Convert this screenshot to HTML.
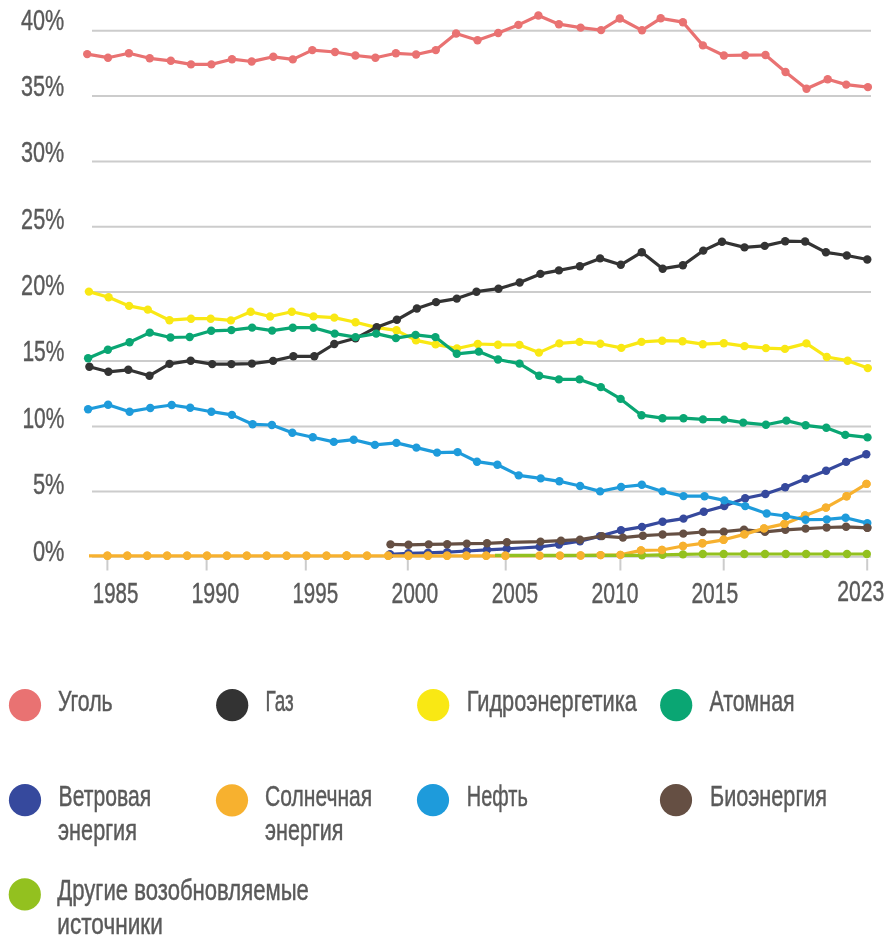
<!DOCTYPE html>
<html><head><meta charset="utf-8"><title>Chart</title>
<style>html,body{margin:0;padding:0;background:#fff;width:892px;height:943px;overflow:hidden;font-family:"Liberation Sans",sans-serif}svg{display:block;will-change:transform}</style>
</head><body>
<svg width="892" height="943" viewBox="0 0 892 943"><rect width="892" height="943" fill="#fff"/>
<line x1="92" y1="30.7" x2="871" y2="30.7" stroke="#cccccc" stroke-width="2"/>
<line x1="92" y1="96.1" x2="871" y2="96.1" stroke="#cccccc" stroke-width="2"/>
<line x1="92" y1="161.4" x2="871" y2="161.4" stroke="#cccccc" stroke-width="2"/>
<line x1="92" y1="226.7" x2="871" y2="226.7" stroke="#cccccc" stroke-width="2"/>
<line x1="92" y1="292.0" x2="871" y2="292.0" stroke="#cccccc" stroke-width="2"/>
<line x1="92" y1="361.0" x2="871" y2="361.0" stroke="#cccccc" stroke-width="2"/>
<line x1="92" y1="426.4" x2="871" y2="426.4" stroke="#cccccc" stroke-width="2"/>
<line x1="92" y1="491.6" x2="871" y2="491.6" stroke="#cccccc" stroke-width="2"/>
<line x1="92" y1="556.8" x2="871" y2="556.8" stroke="#cccccc" stroke-width="2"/>
<line x1="107.4" y1="559" x2="107.4" y2="570.5" stroke="#cccccc" stroke-width="2"/>
<line x1="206.6" y1="559" x2="206.6" y2="570.5" stroke="#cccccc" stroke-width="2"/>
<line x1="305.8" y1="559" x2="305.8" y2="570.5" stroke="#cccccc" stroke-width="2"/>
<line x1="407.8" y1="559" x2="407.8" y2="570.5" stroke="#cccccc" stroke-width="2"/>
<line x1="505.7" y1="559" x2="505.7" y2="570.5" stroke="#cccccc" stroke-width="2"/>
<line x1="620.4" y1="559" x2="620.4" y2="570.5" stroke="#cccccc" stroke-width="2"/>
<line x1="723.7" y1="559" x2="723.7" y2="570.5" stroke="#cccccc" stroke-width="2"/>
<line x1="867.2" y1="559" x2="867.2" y2="570.5" stroke="#cccccc" stroke-width="2"/>
<g font-family="Liberation Sans, sans-serif" font-size="29.5" fill="#5a5a5a" stroke="#5a5a5a" stroke-width="0.4">
<text x="21.0" y="29.7" textLength="43.2" lengthAdjust="spacingAndGlyphs">40%</text>
<text x="21.0" y="96.0" textLength="43.2" lengthAdjust="spacingAndGlyphs">35%</text>
<text x="21.0" y="162.4" textLength="43.2" lengthAdjust="spacingAndGlyphs">30%</text>
<text x="21.1" y="228.7" textLength="43.3" lengthAdjust="spacingAndGlyphs">25%</text>
<text x="21.1" y="295.1" textLength="43.3" lengthAdjust="spacingAndGlyphs">20%</text>
<text x="22.4" y="361.4" textLength="42.0" lengthAdjust="spacingAndGlyphs">15%</text>
<text x="22.4" y="427.8" textLength="42.0" lengthAdjust="spacingAndGlyphs">10%</text>
<text x="32.9" y="494.1" textLength="31.5" lengthAdjust="spacingAndGlyphs">5%</text>
<text x="32.9" y="560.5" textLength="31.5" lengthAdjust="spacingAndGlyphs">0%</text>
<text x="92.8" y="602.6" textLength="45.5" lengthAdjust="spacingAndGlyphs">1985</text>
<text x="191.4" y="602.6" textLength="47.8" lengthAdjust="spacingAndGlyphs">1990</text>
<text x="292.4" y="602.6" textLength="45.7" lengthAdjust="spacingAndGlyphs">1995</text>
<text x="391.5" y="602.6" textLength="46.7" lengthAdjust="spacingAndGlyphs">2000</text>
<text x="491.8" y="602.6" textLength="46.3" lengthAdjust="spacingAndGlyphs">2005</text>
<text x="591.5" y="602.6" textLength="47.1" lengthAdjust="spacingAndGlyphs">2010</text>
<text x="691.4" y="602.6" textLength="46.8" lengthAdjust="spacingAndGlyphs">2015</text>
<text x="837.3" y="601.3" textLength="47.1" lengthAdjust="spacingAndGlyphs">2023</text>
</g>
<g fill="#f9e814"><polyline points="88.9,291.6 108.6,297.3 129.1,305.9 147.8,309.6 169.5,320.2 191.0,318.7 210.7,318.7 230.9,320.4 250.7,311.8 270.1,316.5 291.8,311.7 313.5,316.4 334.3,317.6 355.5,322.2 377.0,327.6 396.5,330.3 416.0,340.4 435.6,344.4 457.0,348.5 477.8,344.0 498.0,344.7 519.5,344.9 538.9,352.6 559.4,343.4 579.6,341.9 600.3,343.7 621.3,347.9 641.5,341.9 662.2,340.7 682.5,341.2 702.8,344.2 723.8,343.2 744.5,346.1 765.9,348.1 784.9,348.9 806.4,343.4 826.8,357.0 847.6,360.7 867.8,368.1" fill="none" stroke="#f9e814" stroke-width="3.2" stroke-linejoin="round"/><circle cx="88.9" cy="291.6" r="4.2"/><circle cx="108.6" cy="297.3" r="4.2"/><circle cx="129.1" cy="305.9" r="4.2"/><circle cx="147.8" cy="309.6" r="4.2"/><circle cx="169.5" cy="320.2" r="4.2"/><circle cx="191.0" cy="318.7" r="4.2"/><circle cx="210.7" cy="318.7" r="4.2"/><circle cx="230.9" cy="320.4" r="4.2"/><circle cx="250.7" cy="311.8" r="4.2"/><circle cx="270.1" cy="316.5" r="4.2"/><circle cx="291.8" cy="311.7" r="4.2"/><circle cx="313.5" cy="316.4" r="4.2"/><circle cx="334.3" cy="317.6" r="4.2"/><circle cx="355.5" cy="322.2" r="4.2"/><circle cx="377.0" cy="327.6" r="4.2"/><circle cx="396.5" cy="330.3" r="4.2"/><circle cx="416.0" cy="340.4" r="4.2"/><circle cx="435.6" cy="344.4" r="4.2"/><circle cx="457.0" cy="348.5" r="4.2"/><circle cx="477.8" cy="344.0" r="4.2"/><circle cx="498.0" cy="344.7" r="4.2"/><circle cx="519.5" cy="344.9" r="4.2"/><circle cx="538.9" cy="352.6" r="4.2"/><circle cx="559.4" cy="343.4" r="4.2"/><circle cx="579.6" cy="341.9" r="4.2"/><circle cx="600.3" cy="343.7" r="4.2"/><circle cx="621.3" cy="347.9" r="4.2"/><circle cx="641.5" cy="341.9" r="4.2"/><circle cx="662.2" cy="340.7" r="4.2"/><circle cx="682.5" cy="341.2" r="4.2"/><circle cx="702.8" cy="344.2" r="4.2"/><circle cx="723.8" cy="343.2" r="4.2"/><circle cx="744.5" cy="346.1" r="4.2"/><circle cx="765.9" cy="348.1" r="4.2"/><circle cx="784.9" cy="348.9" r="4.2"/><circle cx="806.4" cy="343.4" r="4.2"/><circle cx="826.8" cy="357.0" r="4.2"/><circle cx="847.6" cy="360.7" r="4.2"/><circle cx="867.8" cy="368.1" r="4.2"/></g>
<g fill="#333333"><polyline points="89.4,366.8 108.4,371.8 128.3,369.8 149.5,375.7 169.5,363.9 190.7,360.7 212.2,364.1 231.4,364.1 251.9,363.6 273.1,360.9 293.4,356.3 314.3,356.3 334.3,344.0 355.5,338.3 376.7,327.2 396.9,319.8 416.9,308.5 436.1,302.1 456.8,298.6 476.5,291.7 498.5,288.7 519.7,282.5 540.4,273.9 558.9,270.4 579.9,266.3 600.1,258.4 620.8,264.8 641.8,252.2 662.7,268.7 682.9,265.3 703.3,250.6 722.0,241.7 744.5,247.4 764.7,245.9 785.2,241.2 805.1,241.5 825.9,252.3 846.8,255.5 867.3,259.5" fill="none" stroke="#333333" stroke-width="3.2" stroke-linejoin="round"/><circle cx="89.4" cy="366.8" r="4.2"/><circle cx="108.4" cy="371.8" r="4.2"/><circle cx="128.3" cy="369.8" r="4.2"/><circle cx="149.5" cy="375.7" r="4.2"/><circle cx="169.5" cy="363.9" r="4.2"/><circle cx="190.7" cy="360.7" r="4.2"/><circle cx="212.2" cy="364.1" r="4.2"/><circle cx="231.4" cy="364.1" r="4.2"/><circle cx="251.9" cy="363.6" r="4.2"/><circle cx="273.1" cy="360.9" r="4.2"/><circle cx="293.4" cy="356.3" r="4.2"/><circle cx="314.3" cy="356.3" r="4.2"/><circle cx="334.3" cy="344.0" r="4.2"/><circle cx="355.5" cy="338.3" r="4.2"/><circle cx="376.7" cy="327.2" r="4.2"/><circle cx="396.9" cy="319.8" r="4.2"/><circle cx="416.9" cy="308.5" r="4.2"/><circle cx="436.1" cy="302.1" r="4.2"/><circle cx="456.8" cy="298.6" r="4.2"/><circle cx="476.5" cy="291.7" r="4.2"/><circle cx="498.5" cy="288.7" r="4.2"/><circle cx="519.7" cy="282.5" r="4.2"/><circle cx="540.4" cy="273.9" r="4.2"/><circle cx="558.9" cy="270.4" r="4.2"/><circle cx="579.9" cy="266.3" r="4.2"/><circle cx="600.1" cy="258.4" r="4.2"/><circle cx="620.8" cy="264.8" r="4.2"/><circle cx="641.8" cy="252.2" r="4.2"/><circle cx="662.7" cy="268.7" r="4.2"/><circle cx="682.9" cy="265.3" r="4.2"/><circle cx="703.3" cy="250.6" r="4.2"/><circle cx="722.0" cy="241.7" r="4.2"/><circle cx="744.5" cy="247.4" r="4.2"/><circle cx="764.7" cy="245.9" r="4.2"/><circle cx="785.2" cy="241.2" r="4.2"/><circle cx="805.1" cy="241.5" r="4.2"/><circle cx="825.9" cy="252.3" r="4.2"/><circle cx="846.8" cy="255.5" r="4.2"/><circle cx="867.3" cy="259.5" r="4.2"/></g>
<g fill="#0aa673"><polyline points="88.1,358.2 107.9,349.8 129.6,342.2 149.8,332.6 170.5,337.5 189.7,337.0 211.2,330.8 231.4,330.1 252.1,327.6 272.1,330.6 292.8,327.7 313.5,327.7 334.7,333.6 355.5,337.1 376.2,333.6 395.9,338.1 415.6,334.9 435.4,337.1 456.8,353.8 478.8,351.6 498.0,359.5 519.5,363.6 539.2,375.7 558.9,379.4 579.6,379.4 600.8,387.1 620.6,398.9 641.5,415.2 662.5,418.2 683.5,418.2 703.0,419.4 724.0,419.6 743.2,422.6 765.9,424.8 786.4,420.6 805.6,425.3 826.3,427.8 845.3,434.9 867.5,437.4" fill="none" stroke="#0aa673" stroke-width="3.2" stroke-linejoin="round"/><circle cx="88.1" cy="358.2" r="4.2"/><circle cx="107.9" cy="349.8" r="4.2"/><circle cx="129.6" cy="342.2" r="4.2"/><circle cx="149.8" cy="332.6" r="4.2"/><circle cx="170.5" cy="337.5" r="4.2"/><circle cx="189.7" cy="337.0" r="4.2"/><circle cx="211.2" cy="330.8" r="4.2"/><circle cx="231.4" cy="330.1" r="4.2"/><circle cx="252.1" cy="327.6" r="4.2"/><circle cx="272.1" cy="330.6" r="4.2"/><circle cx="292.8" cy="327.7" r="4.2"/><circle cx="313.5" cy="327.7" r="4.2"/><circle cx="334.7" cy="333.6" r="4.2"/><circle cx="355.5" cy="337.1" r="4.2"/><circle cx="376.2" cy="333.6" r="4.2"/><circle cx="395.9" cy="338.1" r="4.2"/><circle cx="415.6" cy="334.9" r="4.2"/><circle cx="435.4" cy="337.1" r="4.2"/><circle cx="456.8" cy="353.8" r="4.2"/><circle cx="478.8" cy="351.6" r="4.2"/><circle cx="498.0" cy="359.5" r="4.2"/><circle cx="519.5" cy="363.6" r="4.2"/><circle cx="539.2" cy="375.7" r="4.2"/><circle cx="558.9" cy="379.4" r="4.2"/><circle cx="579.6" cy="379.4" r="4.2"/><circle cx="600.8" cy="387.1" r="4.2"/><circle cx="620.6" cy="398.9" r="4.2"/><circle cx="641.5" cy="415.2" r="4.2"/><circle cx="662.5" cy="418.2" r="4.2"/><circle cx="683.5" cy="418.2" r="4.2"/><circle cx="703.0" cy="419.4" r="4.2"/><circle cx="724.0" cy="419.6" r="4.2"/><circle cx="743.2" cy="422.6" r="4.2"/><circle cx="765.9" cy="424.8" r="4.2"/><circle cx="786.4" cy="420.6" r="4.2"/><circle cx="805.6" cy="425.3" r="4.2"/><circle cx="826.3" cy="427.8" r="4.2"/><circle cx="845.3" cy="434.9" r="4.2"/><circle cx="867.5" cy="437.4" r="4.2"/></g>
<g fill="#e97272"><polyline points="87.2,54.1 108.0,57.7 128.9,53.2 149.7,58.3 170.8,60.8 191.0,64.4 211.4,64.4 232.0,59.2 251.7,61.5 273.3,56.8 292.8,59.4 312.3,50.1 335.0,52.0 355.4,55.5 375.4,57.7 395.9,53.3 416.1,54.5 435.8,50.1 456.1,33.5 477.5,40.2 498.2,33.0 518.4,24.9 538.4,15.5 558.9,24.2 580.6,27.6 601.1,30.1 619.8,18.5 642.0,30.3 660.7,18.3 682.9,22.2 702.9,45.4 723.9,55.5 745.1,55.2 765.5,55.0 785.5,72.0 806.5,88.8 827.7,79.2 846.2,84.6 867.9,87.1" fill="none" stroke="#e97272" stroke-width="3.2" stroke-linejoin="round"/><circle cx="87.2" cy="54.1" r="4.2"/><circle cx="108.0" cy="57.7" r="4.2"/><circle cx="128.9" cy="53.2" r="4.2"/><circle cx="149.7" cy="58.3" r="4.2"/><circle cx="170.8" cy="60.8" r="4.2"/><circle cx="191.0" cy="64.4" r="4.2"/><circle cx="211.4" cy="64.4" r="4.2"/><circle cx="232.0" cy="59.2" r="4.2"/><circle cx="251.7" cy="61.5" r="4.2"/><circle cx="273.3" cy="56.8" r="4.2"/><circle cx="292.8" cy="59.4" r="4.2"/><circle cx="312.3" cy="50.1" r="4.2"/><circle cx="335.0" cy="52.0" r="4.2"/><circle cx="355.4" cy="55.5" r="4.2"/><circle cx="375.4" cy="57.7" r="4.2"/><circle cx="395.9" cy="53.3" r="4.2"/><circle cx="416.1" cy="54.5" r="4.2"/><circle cx="435.8" cy="50.1" r="4.2"/><circle cx="456.1" cy="33.5" r="4.2"/><circle cx="477.5" cy="40.2" r="4.2"/><circle cx="498.2" cy="33.0" r="4.2"/><circle cx="518.4" cy="24.9" r="4.2"/><circle cx="538.4" cy="15.5" r="4.2"/><circle cx="558.9" cy="24.2" r="4.2"/><circle cx="580.6" cy="27.6" r="4.2"/><circle cx="601.1" cy="30.1" r="4.2"/><circle cx="619.8" cy="18.5" r="4.2"/><circle cx="642.0" cy="30.3" r="4.2"/><circle cx="660.7" cy="18.3" r="4.2"/><circle cx="682.9" cy="22.2" r="4.2"/><circle cx="702.9" cy="45.4" r="4.2"/><circle cx="723.9" cy="55.5" r="4.2"/><circle cx="745.1" cy="55.2" r="4.2"/><circle cx="765.5" cy="55.0" r="4.2"/><circle cx="785.5" cy="72.0" r="4.2"/><circle cx="806.5" cy="88.8" r="4.2"/><circle cx="827.7" cy="79.2" r="4.2"/><circle cx="846.2" cy="84.6" r="4.2"/><circle cx="867.9" cy="87.1" r="4.2"/></g>
<g fill="#36499d"><polyline points="390.0,554.3 408.4,553.3 428.0,552.8 447.2,552.2 466.8,551.0 487.0,549.8 506.8,548.8 539.6,546.9 559.0,544.5 580.0,541.2 600.0,536.1 621.0,530.3 642.0,526.9 662.6,521.8 683.5,518.6 703.8,511.8 724.3,506.1 745.2,498.2 765.4,494.0 785.2,487.3 805.6,478.7 826.1,470.8 846.1,461.9 866.3,454.3" fill="none" stroke="#36499d" stroke-width="3.2" stroke-linejoin="round"/><circle cx="390.0" cy="554.3" r="4.2"/><circle cx="408.4" cy="553.3" r="4.2"/><circle cx="428.0" cy="552.8" r="4.2"/><circle cx="447.2" cy="552.2" r="4.2"/><circle cx="466.8" cy="551.0" r="4.2"/><circle cx="487.0" cy="549.8" r="4.2"/><circle cx="506.8" cy="548.8" r="4.2"/><circle cx="539.6" cy="546.9" r="4.2"/><circle cx="559.0" cy="544.5" r="4.2"/><circle cx="580.0" cy="541.2" r="4.2"/><circle cx="600.0" cy="536.1" r="4.2"/><circle cx="621.0" cy="530.3" r="4.2"/><circle cx="642.0" cy="526.9" r="4.2"/><circle cx="662.6" cy="521.8" r="4.2"/><circle cx="683.5" cy="518.6" r="4.2"/><circle cx="703.8" cy="511.8" r="4.2"/><circle cx="724.3" cy="506.1" r="4.2"/><circle cx="745.2" cy="498.2" r="4.2"/><circle cx="765.4" cy="494.0" r="4.2"/><circle cx="785.2" cy="487.3" r="4.2"/><circle cx="805.6" cy="478.7" r="4.2"/><circle cx="826.1" cy="470.8" r="4.2"/><circle cx="846.1" cy="461.9" r="4.2"/><circle cx="866.3" cy="454.3" r="4.2"/></g>
<g fill="#654f43"><polyline points="390.5,544.4 408.5,544.8 428.7,544.4 447.2,544.2 466.8,543.6 487.0,543.3 506.9,542.3 540.5,541.6 561.0,540.6 580.0,539.7 602.0,536.1 622.9,537.6 642.9,535.7 662.6,534.5 683.3,533.6 702.8,532.0 723.8,531.7 744.0,529.6 765.0,531.9 785.4,529.8 805.6,528.6 826.6,527.5 846.1,526.8 867.3,527.8" fill="none" stroke="#654f43" stroke-width="3.2" stroke-linejoin="round"/><circle cx="390.5" cy="544.4" r="4.2"/><circle cx="408.5" cy="544.8" r="4.2"/><circle cx="428.7" cy="544.4" r="4.2"/><circle cx="447.2" cy="544.2" r="4.2"/><circle cx="466.8" cy="543.6" r="4.2"/><circle cx="487.0" cy="543.3" r="4.2"/><circle cx="506.9" cy="542.3" r="4.2"/><circle cx="540.5" cy="541.6" r="4.2"/><circle cx="561.0" cy="540.6" r="4.2"/><circle cx="580.0" cy="539.7" r="4.2"/><circle cx="602.0" cy="536.1" r="4.2"/><circle cx="622.9" cy="537.6" r="4.2"/><circle cx="642.9" cy="535.7" r="4.2"/><circle cx="662.6" cy="534.5" r="4.2"/><circle cx="683.3" cy="533.6" r="4.2"/><circle cx="702.8" cy="532.0" r="4.2"/><circle cx="723.8" cy="531.7" r="4.2"/><circle cx="744.0" cy="529.6" r="4.2"/><circle cx="765.0" cy="531.9" r="4.2"/><circle cx="785.4" cy="529.8" r="4.2"/><circle cx="805.6" cy="528.6" r="4.2"/><circle cx="826.6" cy="527.5" r="4.2"/><circle cx="846.1" cy="526.8" r="4.2"/><circle cx="867.3" cy="527.8" r="4.2"/></g>
<g fill="#f7b12f"><polyline points="89.0,555.8 107.4,555.8 127.3,555.8 147.2,555.8 167.1,555.8 187.1,555.8 207.0,555.8 226.9,555.8 246.8,555.8 266.7,555.8 286.6,555.8 306.5,555.8 326.5,555.8 346.4,555.8 346.8,555.8 367.0,555.8 388.2,555.8 408.4,555.8 428.0,555.8 447.1,555.8 466.4,555.8 486.2,555.8 505.4,555.8 539.6,555.6 560.0,555.6 580.6,555.5 600.6,555.1 620.4,554.9 641.0,550.4 662.0,550.0 683.0,546.0 702.4,543.3 723.6,539.8 744.4,534.4 764.1,528.4 784.4,523.9 805.1,515.5 825.9,507.6 846.6,496.2 866.5,483.9" fill="none" stroke="#f7b12f" stroke-width="3.2" stroke-linejoin="round"/><circle cx="107.4" cy="555.8" r="4.2"/><circle cx="127.3" cy="555.8" r="4.2"/><circle cx="147.2" cy="555.8" r="4.2"/><circle cx="167.1" cy="555.8" r="4.2"/><circle cx="187.1" cy="555.8" r="4.2"/><circle cx="207.0" cy="555.8" r="4.2"/><circle cx="226.9" cy="555.8" r="4.2"/><circle cx="246.8" cy="555.8" r="4.2"/><circle cx="266.7" cy="555.8" r="4.2"/><circle cx="286.6" cy="555.8" r="4.2"/><circle cx="306.5" cy="555.8" r="4.2"/><circle cx="326.5" cy="555.8" r="4.2"/><circle cx="346.4" cy="555.8" r="4.2"/><circle cx="346.8" cy="555.8" r="4.2"/><circle cx="367.0" cy="555.8" r="4.2"/><circle cx="388.2" cy="555.8" r="4.2"/><circle cx="408.4" cy="555.8" r="4.2"/><circle cx="428.0" cy="555.8" r="4.2"/><circle cx="447.1" cy="555.8" r="4.2"/><circle cx="466.4" cy="555.8" r="4.2"/><circle cx="486.2" cy="555.8" r="4.2"/><circle cx="505.4" cy="555.8" r="4.2"/><circle cx="539.6" cy="555.6" r="4.2"/><circle cx="560.0" cy="555.6" r="4.2"/><circle cx="580.6" cy="555.5" r="4.2"/><circle cx="600.6" cy="555.1" r="4.2"/><circle cx="620.4" cy="554.9" r="4.2"/><circle cx="641.0" cy="550.4" r="4.2"/><circle cx="662.0" cy="550.0" r="4.2"/><circle cx="683.0" cy="546.0" r="4.2"/><circle cx="702.4" cy="543.3" r="4.2"/><circle cx="723.6" cy="539.8" r="4.2"/><circle cx="744.4" cy="534.4" r="4.2"/><circle cx="764.1" cy="528.4" r="4.2"/><circle cx="784.4" cy="523.9" r="4.2"/><circle cx="805.1" cy="515.5" r="4.2"/><circle cx="825.9" cy="507.6" r="4.2"/><circle cx="846.6" cy="496.2" r="4.2"/><circle cx="866.5" cy="483.9" r="4.2"/></g>
<g fill="#93c11f"><polyline points="495.0,555.3 642.0,555.3 662.6,554.9 683.0,554.4 702.8,554.0 723.7,554.0 744.3,554.0 765.0,554.0 785.8,554.0 806.1,554.0 826.3,554.0 847.0,554.0 866.8,554.0" fill="none" stroke="#93c11f" stroke-width="3.2" stroke-linejoin="round"/><circle cx="642.0" cy="555.3" r="4.2"/><circle cx="662.6" cy="554.9" r="4.2"/><circle cx="683.0" cy="554.4" r="4.2"/><circle cx="702.8" cy="554.0" r="4.2"/><circle cx="723.7" cy="554.0" r="4.2"/><circle cx="744.3" cy="554.0" r="4.2"/><circle cx="765.0" cy="554.0" r="4.2"/><circle cx="785.8" cy="554.0" r="4.2"/><circle cx="806.1" cy="554.0" r="4.2"/><circle cx="826.3" cy="554.0" r="4.2"/><circle cx="847.0" cy="554.0" r="4.2"/><circle cx="866.8" cy="554.0" r="4.2"/></g>
<g fill="#f7b12f"><circle cx="107.4" cy="555.8" r="4.2"/><circle cx="127.3" cy="555.8" r="4.2"/><circle cx="147.2" cy="555.8" r="4.2"/><circle cx="167.1" cy="555.8" r="4.2"/><circle cx="187.1" cy="555.8" r="4.2"/><circle cx="207.0" cy="555.8" r="4.2"/><circle cx="226.9" cy="555.8" r="4.2"/><circle cx="246.8" cy="555.8" r="4.2"/><circle cx="266.7" cy="555.8" r="4.2"/><circle cx="286.6" cy="555.8" r="4.2"/><circle cx="306.5" cy="555.8" r="4.2"/><circle cx="326.5" cy="555.8" r="4.2"/><circle cx="346.4" cy="555.8" r="4.2"/><circle cx="346.8" cy="555.8" r="4.2"/><circle cx="367.0" cy="555.8" r="4.2"/><circle cx="388.2" cy="555.8" r="4.2"/><circle cx="408.4" cy="555.8" r="4.2"/><circle cx="428.0" cy="555.8" r="4.2"/><circle cx="447.1" cy="555.8" r="4.2"/><circle cx="466.4" cy="555.8" r="4.2"/><circle cx="486.2" cy="555.8" r="4.2"/><circle cx="505.4" cy="555.8" r="4.2"/><circle cx="539.6" cy="555.6" r="4.2"/><circle cx="560.0" cy="555.6" r="4.2"/><circle cx="580.6" cy="555.5" r="4.2"/><circle cx="600.6" cy="555.1" r="4.2"/><circle cx="620.4" cy="554.9" r="4.2"/><circle cx="641.0" cy="550.4" r="4.2"/><circle cx="662.0" cy="550.0" r="4.2"/><circle cx="683.0" cy="546.0" r="4.2"/><circle cx="702.4" cy="543.3" r="4.2"/><circle cx="723.6" cy="539.8" r="4.2"/><circle cx="744.4" cy="534.4" r="4.2"/><circle cx="764.1" cy="528.4" r="4.2"/><circle cx="784.4" cy="523.9" r="4.2"/><circle cx="805.1" cy="515.5" r="4.2"/><circle cx="825.9" cy="507.6" r="4.2"/><circle cx="846.6" cy="496.2" r="4.2"/><circle cx="866.5" cy="483.9" r="4.2"/></g>
<g fill="#1e9bdb"><polyline points="88.1,409.2 108.1,404.8 129.6,411.7 150.3,408.0 171.7,405.0 190.2,407.8 211.4,411.7 231.9,414.9 252.6,424.3 271.9,425.0 292.3,432.8 312.8,437.3 333.8,441.9 353.7,439.7 374.9,444.9 396.4,442.9 416.4,447.6 437.1,452.6 457.6,452.1 477.0,461.7 497.4,464.7 518.7,475.4 540.7,478.4 559.4,481.3 580.1,486.0 600.1,491.4 621.1,487.0 641.8,484.8 662.5,491.4 683.5,496.1 704.5,496.2 724.3,500.4 745.2,506.1 766.7,513.5 785.9,516.0 805.6,519.7 826.8,519.4 845.6,517.7 867.3,523.1" fill="none" stroke="#1e9bdb" stroke-width="3.2" stroke-linejoin="round"/><circle cx="88.1" cy="409.2" r="4.2"/><circle cx="108.1" cy="404.8" r="4.2"/><circle cx="129.6" cy="411.7" r="4.2"/><circle cx="150.3" cy="408.0" r="4.2"/><circle cx="171.7" cy="405.0" r="4.2"/><circle cx="190.2" cy="407.8" r="4.2"/><circle cx="211.4" cy="411.7" r="4.2"/><circle cx="231.9" cy="414.9" r="4.2"/><circle cx="252.6" cy="424.3" r="4.2"/><circle cx="271.9" cy="425.0" r="4.2"/><circle cx="292.3" cy="432.8" r="4.2"/><circle cx="312.8" cy="437.3" r="4.2"/><circle cx="333.8" cy="441.9" r="4.2"/><circle cx="353.7" cy="439.7" r="4.2"/><circle cx="374.9" cy="444.9" r="4.2"/><circle cx="396.4" cy="442.9" r="4.2"/><circle cx="416.4" cy="447.6" r="4.2"/><circle cx="437.1" cy="452.6" r="4.2"/><circle cx="457.6" cy="452.1" r="4.2"/><circle cx="477.0" cy="461.7" r="4.2"/><circle cx="497.4" cy="464.7" r="4.2"/><circle cx="518.7" cy="475.4" r="4.2"/><circle cx="540.7" cy="478.4" r="4.2"/><circle cx="559.4" cy="481.3" r="4.2"/><circle cx="580.1" cy="486.0" r="4.2"/><circle cx="600.1" cy="491.4" r="4.2"/><circle cx="621.1" cy="487.0" r="4.2"/><circle cx="641.8" cy="484.8" r="4.2"/><circle cx="662.5" cy="491.4" r="4.2"/><circle cx="683.5" cy="496.1" r="4.2"/><circle cx="704.5" cy="496.2" r="4.2"/><circle cx="724.3" cy="500.4" r="4.2"/><circle cx="745.2" cy="506.1" r="4.2"/><circle cx="766.7" cy="513.5" r="4.2"/><circle cx="785.9" cy="516.0" r="4.2"/><circle cx="805.6" cy="519.7" r="4.2"/><circle cx="826.8" cy="519.4" r="4.2"/><circle cx="845.6" cy="517.7" r="4.2"/><circle cx="867.3" cy="523.1" r="4.2"/></g>
<circle cx="867.3" cy="527.8" r="4.2" fill="#654f43"/>
<g font-family="Liberation Sans, sans-serif" font-size="29" fill="#5a5a5a" stroke="#5a5a5a" stroke-width="0.45">
<circle cx="25" cy="705.2" r="16.1" fill="#e97272" stroke="none"/>
<text x="58.0" y="711.1" textLength="54.7" lengthAdjust="spacingAndGlyphs">Уголь</text>
<circle cx="232.2" cy="705.2" r="16.1" fill="#333333" stroke="none"/>
<text x="265.6" y="711.1" textLength="28.2" lengthAdjust="spacingAndGlyphs">Газ</text>
<circle cx="433.2" cy="705.2" r="16.1" fill="#f9e814" stroke="none"/>
<text x="466.7" y="711.1" textLength="170.1" lengthAdjust="spacingAndGlyphs">Гидроэнергетика</text>
<circle cx="676.2" cy="705.2" r="16.1" fill="#0aa673" stroke="none"/>
<text x="709.4" y="711.1" textLength="85.2" lengthAdjust="spacingAndGlyphs">Атомная</text>
<circle cx="25" cy="800.2" r="16.1" fill="#36499d" stroke="none"/>
<text x="58.6" y="805.9" textLength="92.5" lengthAdjust="spacingAndGlyphs">Ветровая</text>
<text x="58.0" y="840.2" textLength="79.0" lengthAdjust="spacingAndGlyphs">энергия</text>
<circle cx="232" cy="800.3" r="16.1" fill="#f7b12f" stroke="none"/>
<text x="265.0" y="805.9" textLength="107.2" lengthAdjust="spacingAndGlyphs">Солнечная</text>
<text x="265.0" y="840.2" textLength="78.5" lengthAdjust="spacingAndGlyphs">энергия</text>
<circle cx="433" cy="800.1" r="16.1" fill="#1e9bdb" stroke="none"/>
<text x="466.8" y="805.9" textLength="61.0" lengthAdjust="spacingAndGlyphs">Нефть</text>
<circle cx="676" cy="800.1" r="16.1" fill="#654f43" stroke="none"/>
<text x="710.0" y="805.9" textLength="117.1" lengthAdjust="spacingAndGlyphs">Биоэнергия</text>
<circle cx="24.8" cy="894.4" r="16.1" fill="#93c11f" stroke="none"/>
<text x="57.3" y="899.9" textLength="251.6" lengthAdjust="spacingAndGlyphs">Другие возобновляемые</text>
<text x="57.3" y="934.2" textLength="105.5" lengthAdjust="spacingAndGlyphs">источники</text>
</g></svg>
</body></html>
